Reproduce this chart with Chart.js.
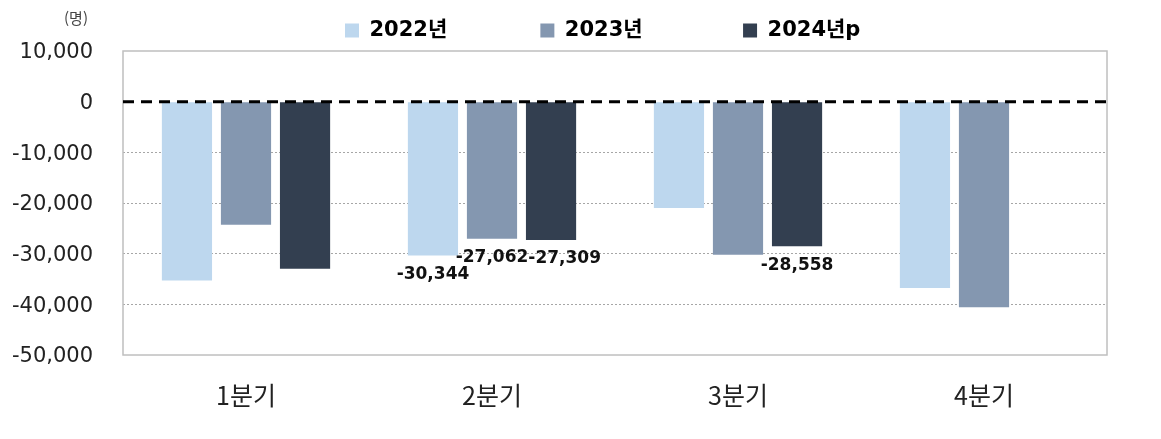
<!DOCTYPE html>
<html lang="ko">
<head>
<meta charset="utf-8">
<script src="https://cdn.jsdelivr.net/npm/chart.js@4.4.1/dist/chart.umd.min.js"></script>
<style>
  html, body { margin: 0; padding: 0; background: #fff; }
  #wrap { width: 1161px; height: 439px; position: relative; }
</style>
</head>
<body>
<div id="wrap"><canvas id="chart"></canvas></div>
<script>
// Data
const quarters = ['1분기', '2분기', '3분기', '4분기'];
const seriesNames = ['2022년', '2023년', '2024년p'];
const values2022 = [-35300, -30344, -21000, -36800];
const values2023 = [-24300, -27062, -30200, -40600];
const values2024 = [-33000, -27309, -28558, null];
// which bars carry a value label
const labels2022 = [false, true, false, false];
const labels2023 = [false, true, false, false];
const labels2024 = [false, true, true, false];
const yTicks = [10000, 0, -10000, -20000, -30000, -40000, -50000];

const colors = ['#BDD7EE', '#8497B0', '#333F50'];
const fontKR = '"Noto Sans CJK KR", "Noto Sans", sans-serif';
const fontNum = '"DejaVu Sans", "Noto Sans CJK KR", sans-serif';

function fmt(v) {
    return v.toLocaleString('en-US');
}

// chart frame, dashed zero line, unit text
const framePlugin = {
    id: 'frame',
    beforeDatasetsDraw(chart) {
        const { ctx, chartArea: a } = chart;
        ctx.save();
        ctx.strokeStyle = '#bfbfbf';
        ctx.lineWidth = 1.5;
        ctx.strokeRect(a.left, a.top, a.right - a.left, a.bottom - a.top);
        ctx.restore();
    },
    afterDatasetsDraw(chart) {
        const { ctx, chartArea: a, scales } = chart;
        const y0 = scales.y.getPixelForValue(0);
        ctx.save();
        ctx.strokeStyle = '#000';
        ctx.lineWidth = 3;
        ctx.setLineDash([11, 7]);
        ctx.beginPath();
        ctx.moveTo(a.left, y0);
        ctx.lineTo(a.right, y0);
        ctx.stroke();
        ctx.restore();
    },
    afterDraw(chart) {
        const { ctx } = chart;
        ctx.save();
        ctx.font = '15px ' + fontKR;
        ctx.fillStyle = '#444';
        ctx.textAlign = 'center';
        ctx.textBaseline = 'middle';
        ctx.fillText('(명)', 76, 18);
        ctx.restore();
    }
};

// value labels under selected bars
const valueLabelPlugin = {
    id: 'valueLabels',
    afterDatasetsDraw(chart) {
        const { ctx } = chart;
        const flags = [labels2022, labels2023, labels2024];
        ctx.save();
        ctx.font = 'bold 17px ' + fontNum;
        ctx.fillStyle = '#111';
        ctx.textAlign = 'center';
        ctx.textBaseline = 'middle';
        quarters.forEach((q, i) => {
            let last = null;
            chart.data.datasets.forEach((ds, d) => {
                if (!flags[d][i] || ds.data[i] == null) return;
                const bar = chart.getDatasetMeta(d).data[i];
                const text = fmt(ds.data[i]);
                const w = ctx.measureText(text).width;
                const y = bar.y + 19;
                let x = bar.x;
                // push right if it would collide with the previous label
                if (last && Math.abs(y - last.y) < 14 && x - w / 2 < last.right) {
                    x = last.right + w / 2;
                }
                ctx.fillText(text, x, y);
                last = { right: x + w / 2, y };
            });
        });
        ctx.restore();
    }
};

// trailing spaces after each legend entry (legend is end-aligned)
const legendGaps = [10, 11, 31];

new Chart(document.getElementById('chart'), {
    type: 'bar',
    data: {
        labels: quarters,
        datasets: [
            { label: seriesNames[0], data: values2022, backgroundColor: colors[0] },
            { label: seriesNames[1], data: values2023, backgroundColor: colors[1] },
            { label: seriesNames[2], data: values2024, backgroundColor: colors[2] }
        ]
    },
    options: {
        responsive: true,
        maintainAspectRatio: false,
        animation: false,
        categoryPercentage: 0.72,
        barPercentage: 0.85,
        layout: { padding: { top: 0, right: 54, bottom: 0, left: 0 } },
        plugins: {
            tooltip: { enabled: false },
            legend: {
                position: 'top',
                align: 'end',
                labels: {
                    boxWidth: 14,
                    boxHeight: 14,
                    padding: 20,
                    color: '#111',
                    font: { family: fontNum, size: 21, weight: 'bold' },
                    generateLabels(chart) {
                        return chart.data.datasets.map((ds, i) => ({
                            text: ds.label + '\u00a0'.repeat(legendGaps[i]),
                            fillStyle: ds.backgroundColor,
                            strokeStyle: ds.backgroundColor,
                            lineWidth: 0,
                            datasetIndex: i
                        }));
                    }
                }
            }
        },
        scales: {
            x: {
                grid: { display: false, drawTicks: false },
                border: { display: false },
                ticks: {
                    padding: 25,
                    color: '#222',
                    font: { family: fontKR, size: 25 }
                },
                afterFit(scale) { scale.height = 84; }
            },
            y: {
                min: -50000,
                max: 10000,
                afterBuildTicks(scale) {
                    scale.ticks = yTicks.map(v => ({ value: v }));
                },
                grid: {
                    drawTicks: false,
                    lineWidth: 1,
                    color(ctx) {
                        const v = ctx.tick ? ctx.tick.value : null;
                        if (v === 0 || v === 10000 || v === -50000) return 'rgba(0,0,0,0)';
                        return '#a6a6a6';
                    }
                },
                border: { display: false, dash: [2, 2] },
                ticks: {
                    padding: 30,
                    labelOffset: 2,
                    color: '#222',
                    font: { family: fontNum, size: 21 },
                    callback: v => fmt(v)
                },
                afterFit(scale) { scale.width = 123; }
            }
        }
    },
    plugins: [framePlugin, valueLabelPlugin]
});
</script>
</body>
</html>
